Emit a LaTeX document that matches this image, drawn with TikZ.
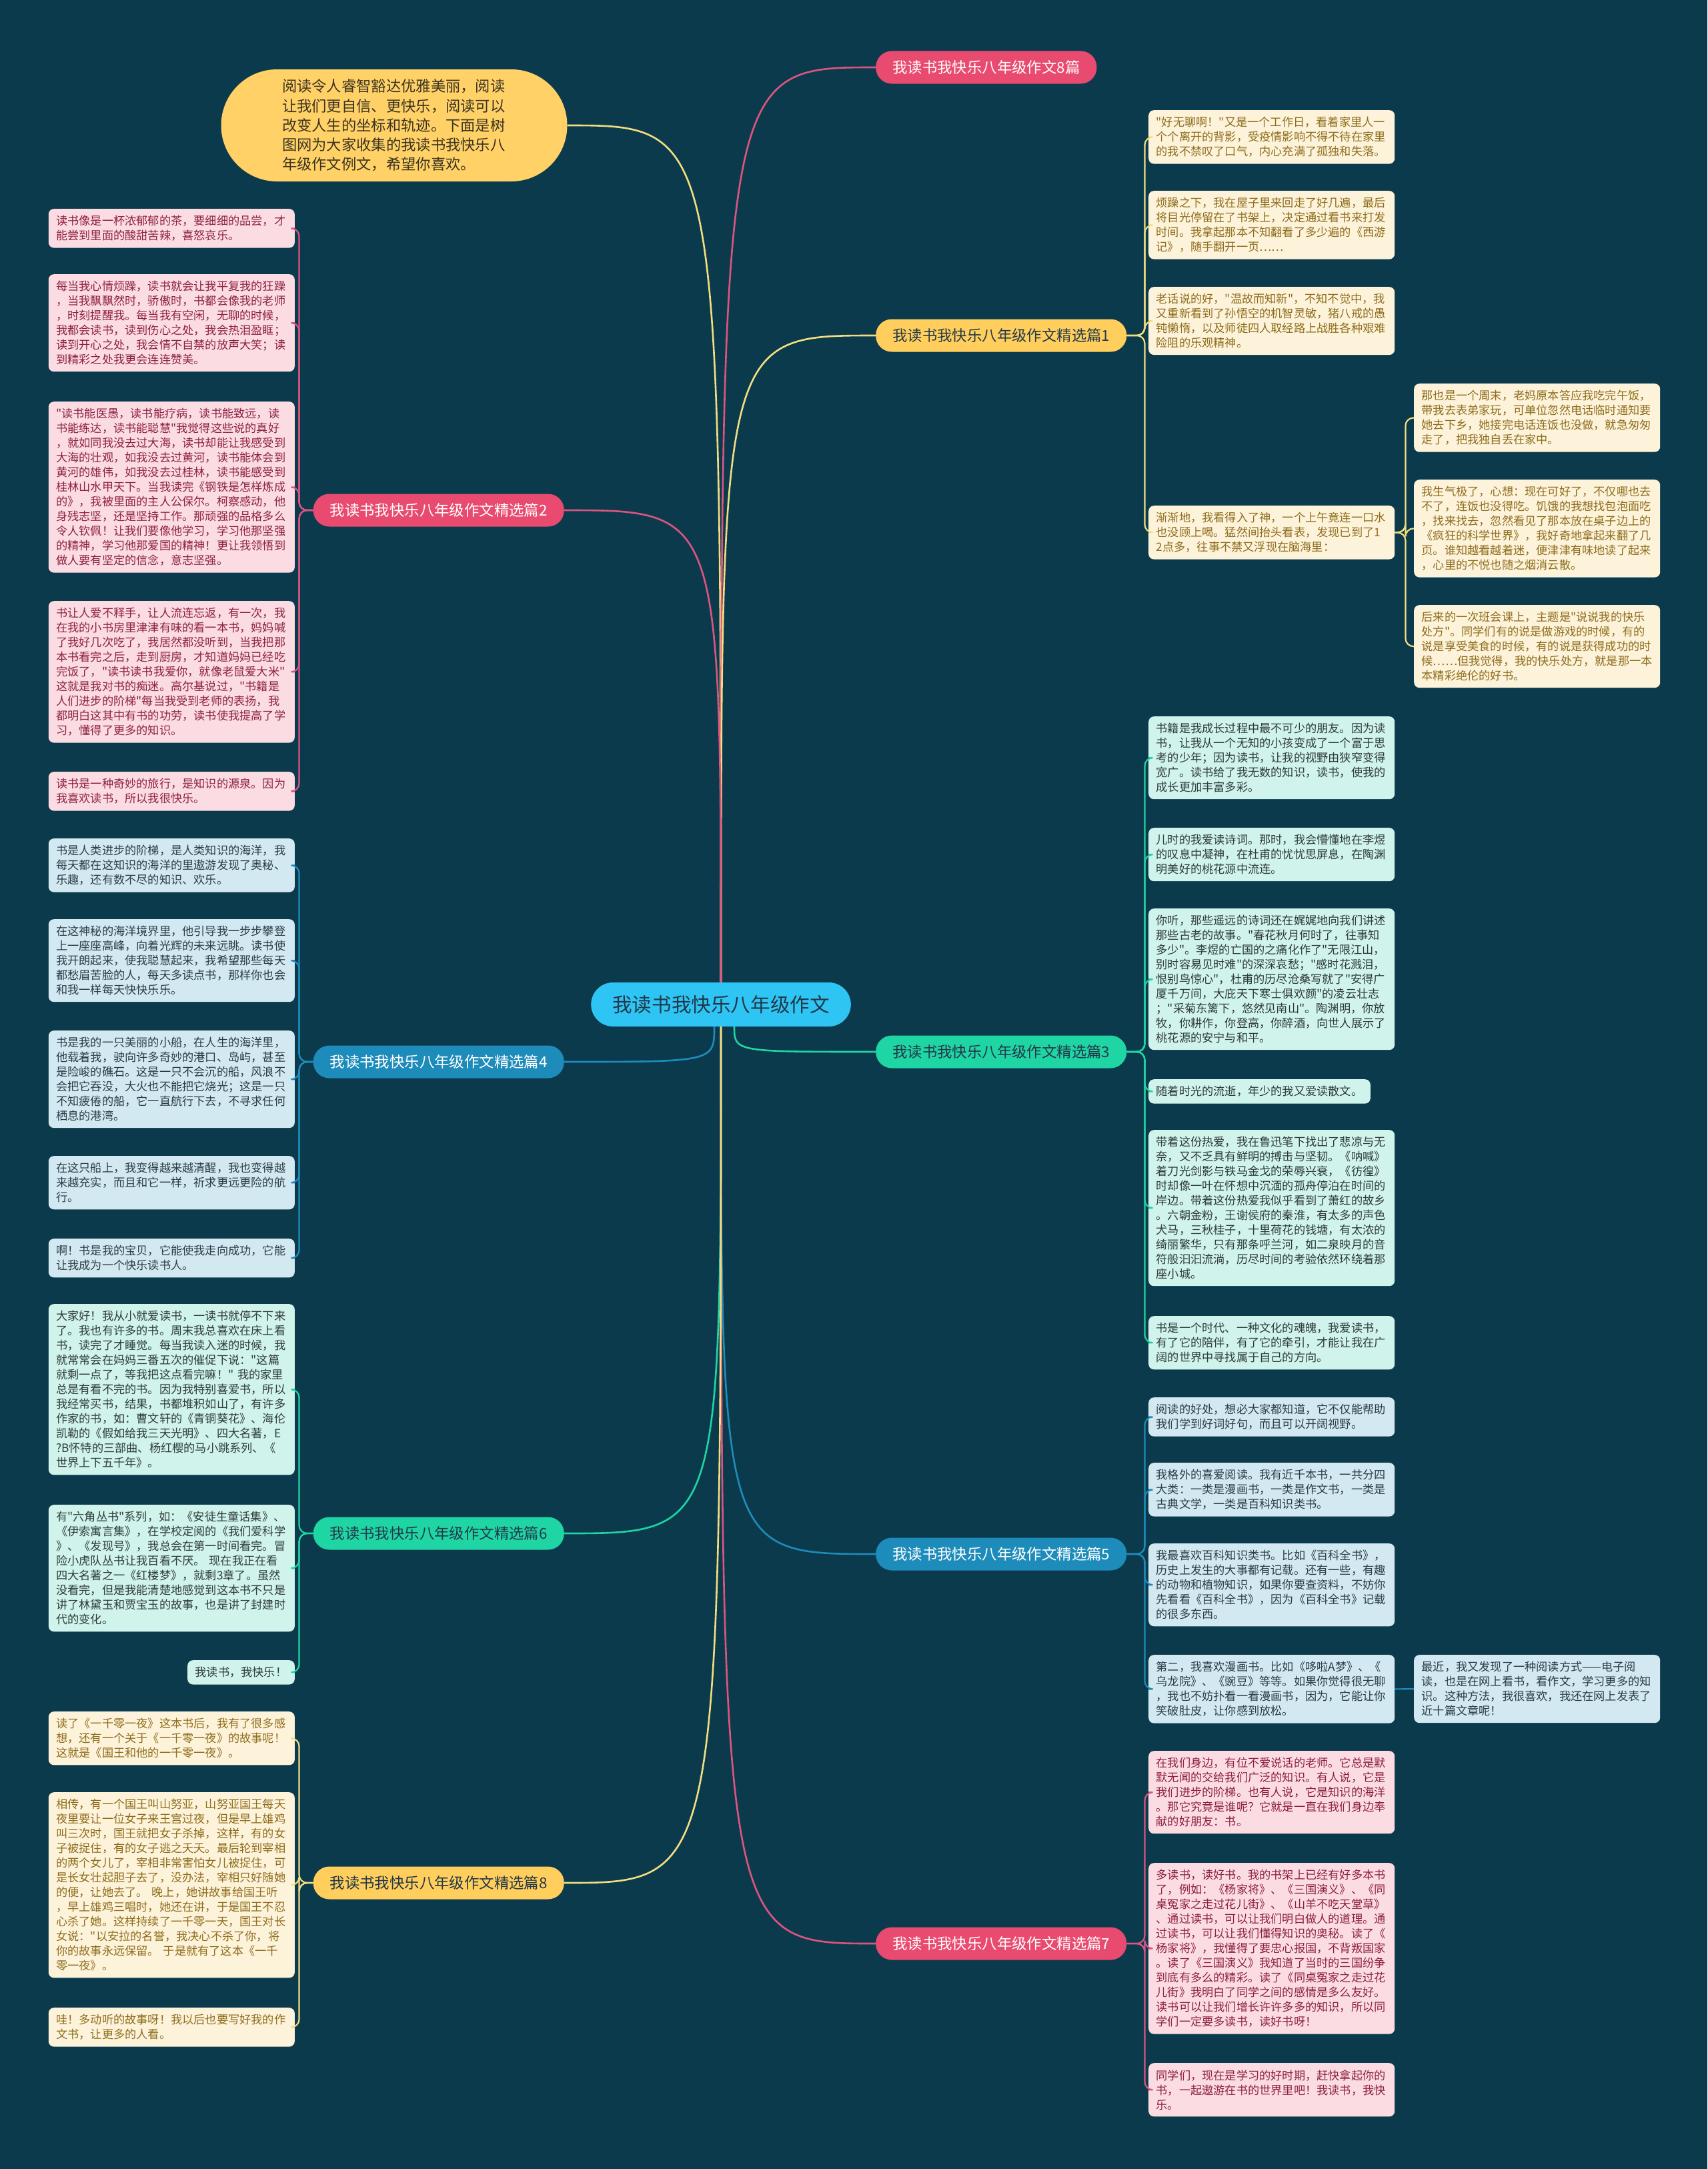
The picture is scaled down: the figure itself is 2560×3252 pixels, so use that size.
\documentclass[tikz,border=0pt]{standalone}
\usepackage{fontspec}
\usepackage{tikz}
\usetikzlibrary{positioning}
\newfontfamily\cjkfont{Noto Sans CJK SC}
\newcommand\leaffont{\cjkfont\fontsize{17.2pt}{22pt}\selectfont}
\newcommand\branchfont{\cjkfont\fontsize{22.4pt}{26pt}\selectfont}
\newcommand\hubfont{\cjkfont\fontsize{29.6pt}{34pt}\selectfont}
\newcommand\introfont{\cjkfont\fontsize{22.3pt}{29.2pt}\selectfont}

\definecolor{bgc}{HTML}{0C3A4D}
\definecolor{hubc}{HTML}{2EC4F3}
\definecolor{hubtext}{HTML}{22384A}
\definecolor{introc}{HTML}{FFD166}
\definecolor{introtext}{HTML}{3B3322}
\definecolor{pinkc}{HTML}{E94B70}
\definecolor{pinkline}{HTML}{DC5580}
\definecolor{pinkfill}{HTML}{FCDCE3}
\definecolor{pinktext}{HTML}{8C2041}
\definecolor{yellowc}{HTML}{FFCE5C}
\definecolor{yellowline}{HTML}{F2DE80}
\definecolor{yellowfill}{HTML}{FDF3DA}
\definecolor{yellowtext}{HTML}{8E6C1C}
\definecolor{greenc}{HTML}{1FD5A3}
\definecolor{greenfill}{HTML}{D0F3EC}
\definecolor{greentext}{HTML}{2E3A3A}
\definecolor{bluec}{HTML}{1E8CBB}
\definecolor{bluefill}{HTML}{D3E9F1}
\definecolor{bluetext}{HTML}{2A3B47}

\tikzset{
  leaf/.style={rounded corners=8pt, inner xsep=11.5pt, inner ysep=10pt, align=left, font=\leaffont},
  wide/.style={leaf, text width=346pt},
  pinkleaf/.style={fill=pinkfill, text=pinktext},
  yellowleaf/.style={fill=yellowfill, text=yellowtext},
  greenleaf/.style={fill=greenfill, text=greentext},
  blueleaf/.style={fill=bluefill, text=bluetext},
  branch/.style={rounded corners=24pt, minimum height=49pt, inner xsep=25pt, font=\branchfont},
  hub/.style={fill=hubc, text=hubtext, rounded corners=33pt, minimum height=66pt, inner xsep=32pt, font=\hubfont},
  trunk/.style={line width=2.6pt},
  twig/.style={line width=2.2pt, rounded corners=12pt},
}

\begin{document}
\begin{tikzpicture}[x=1pt, y=-1pt]
  \useasboundingbox (0,0) rectangle (2560,3252);
  \fill[bgc] (0,0) rectangle (2560,3252);

  % centre and intro
  \node[hub] (main) at (1081,1506) {我读书我快乐八年级作文};
  \node[fill=introc, text=introtext, rounded corners=84pt, minimum width=519pt, minimum height=168pt,
        text width=336pt, align=left, font=\introfont] (intro) at (591,188)
    {阅读令人睿智豁达优雅美丽，阅读\\让我们更自信、更快乐，阅读可以\\改变人生的坐标和轨迹。下面是树\\图网为大家收集的我读书我快乐八\\年级作文例文，希望你喜欢。};

  % branches
  \node[branch, fill=pinkc, text=white, anchor=west] (b0) at (1313,101) {我读书我快乐八年级作文8篇};
  \node[branch, fill=yellowc, text=hubtext, anchor=west] (b1) at (1313,503) {我读书我快乐八年级作文精选篇1};
  \node[branch, fill=pinkc, text=white, anchor=east] (b2) at (846,765) {我读书我快乐八年级作文精选篇2};
  \node[branch, fill=greenc, text=hubtext, anchor=west] (b3) at (1313,1577) {我读书我快乐八年级作文精选篇3};
  \node[branch, fill=bluec, text=white, anchor=east] (b4) at (846,1592) {我读书我快乐八年级作文精选篇4};
  \node[branch, fill=bluec, text=white, anchor=west] (b5) at (1313,2330) {我读书我快乐八年级作文精选篇5};
  \node[branch, fill=greenc, text=hubtext, anchor=east] (b6) at (846,2299) {我读书我快乐八年级作文精选篇6};
  \node[branch, fill=pinkc, text=white, anchor=west] (b7) at (1313,2914) {我读书我快乐八年级作文精选篇7};
  \node[branch, fill=yellowc, text=hubtext, anchor=east] (b8) at (846,2823) {我读书我快乐八年级作文精选篇8};

  % main to branches
  \draw[trunk, yellowline] (main.north) .. controls (main.north |- intro.east) .. (intro.east);
  \draw[trunk, pinkline] (main.north) .. controls (main.north |- b0.west) .. (b0.west);
  \draw[trunk, yellowline] (main.north) .. controls (main.north |- b1.west) .. (b1.west);
  \draw[trunk, pinkline] (main.north) .. controls (main.north |- b2.east) .. (b2.east);
  \draw[trunk, greenc] ([xshift=20pt]main.south) .. controls ([xshift=20pt]main.south |- b3.west) .. (b3.west);
  \draw[trunk, bluec] ([xshift=-10pt]main.south) .. controls ([xshift=-10pt]main.south |- b4.east) .. (b4.east);
  \draw[trunk, bluec] (main.south) .. controls (main.south |- b5.west) .. (b5.west);
  \draw[trunk, greenc] (main.south) .. controls (main.south |- b6.east) .. (b6.east);
  \draw[trunk, pinkline] (main.south) .. controls (main.south |- b7.west) .. (b7.west);
  \draw[trunk, yellowline] (main.south) .. controls (main.south |- b8.east) .. (b8.east);

  % branch 1
  \node[wide, yellowleaf, anchor=north west] (p1a) at (1722,165)
    {"好无聊啊！"又是一个工作日，看着家里人一\\个个离开的背影，受疫情影响不得不待在家里\\的我不禁叹了口气，内心充满了孤独和失落。};
  \node[wide, yellowleaf, anchor=north west] (p1b) at (1722,286)
    {烦躁之下，我在屋子里来回走了好几遍，最后\\将目光停留在了书架上，决定通过看书来打发\\时间。我拿起那本不知翻看了多少遍的《西游\\记》，随手翻开一页……};
  \node[wide, yellowleaf, anchor=north west] (p1c) at (1722,430)
    {老话说的好，"温故而知新"，不知不觉中，我\\又重新看到了孙悟空的机智灵敏，猪八戒的愚\\钝懒惰，以及师徒四人取经路上战胜各种艰难\\险阻的乐观精神。};
  \node[wide, yellowleaf, anchor=north west] (p1d) at (1722,758)
    {渐渐地，我看得入了神，一个上午竟连一口水\\也没顾上喝。猛然间抬头看表，发现已到了1\\2点多，往事不禁又浮现在脑海里：};
  \node[wide, yellowleaf, anchor=north west] (p1e) at (2120,575)
    {那也是一个周末，老妈原本答应我吃完午饭，\\带我去表弟家玩，可单位忽然电话临时通知要\\她去下乡，她接完电话连饭也没做，就急匆匆\\走了，把我独自丢在家中。};
  \node[wide, yellowleaf, anchor=north west] (p1f) at (2120,719)
    {我生气极了，心想：现在可好了，不仅哪也去\\不了，连饭也没得吃。饥饿的我想找包泡面吃\\，找来找去，忽然看见了那本放在桌子边上的\\《疯狂的科学世界》，我好奇地拿起来翻了几\\页。谁知越看越着迷，便津津有味地读了起来\\，心里的不悦也随之烟消云散。};
  \node[wide, yellowleaf, anchor=north west] (p1g) at (2120,907)
    {后来的一次班会课上，主题是"说说我的快乐\\处方"。同学们有的说是做游戏的时候，有的\\说是享受美食的时候，有的说是获得成功的时\\候……但我觉得，我的快乐处方，就是那一本\\本精彩绝伦的好书。};
  \foreach \n in {p1a,p1b,p1c,p1d}
    \draw[twig, yellowline] (b1.east) -- ++(27,0) |- (\n.west);
  \foreach \n in {p1e,p1f,p1g}
    \draw[twig, yellowline] (p1d.east) -- ++(16,0) |- (\n.west);

  % branch 2
  \node[wide, pinkleaf, anchor=north east] (p2a) at (442,313)
    {读书像是一杯浓郁郁的茶，要细细的品尝，才\\能尝到里面的酸甜苦辣，喜怒哀乐。};
  \node[wide, pinkleaf, anchor=north east] (p2b) at (442,411)
    {每当我心情烦躁，读书就会让我平复我的狂躁\\，当我飘飘然时，骄傲时，书都会像我的老师\\，时刻提醒我。每当我有空闲，无聊的时候，\\我都会读书，读到伤心之处，我会热泪盈眶；\\读到开心之处，我会情不自禁的放声大笑；读\\到精彩之处我更会连连赞美。};
  \node[wide, pinkleaf, anchor=north east] (p2c) at (442,602)
    {"读书能医愚，读书能疗病，读书能致远，读\\书能练达，读书能聪慧"我觉得这些说的真好\\，就如同我没去过大海，读书却能让我感受到\\大海的壮观，如我没去过黄河，读书能体会到\\黄河的雄伟，如我没去过桂林，读书能感受到\\桂林山水甲天下。当我读完《钢铁是怎样炼成\\的》，我被里面的主人公保尔。柯察感动，他\\身残志坚，还是坚持工作。那顽强的品格多么\\令人钦佩！让我们要像他学习，学习他那坚强\\的精神，学习他那爱国的精神！更让我领悟到\\做人要有坚定的信念，意志坚强。};
  \node[wide, pinkleaf, anchor=north east] (p2d) at (442,901)
    {书让人爱不释手，让人流连忘返，有一次，我\\在我的小书房里津津有味的看一本书，妈妈喊\\了我好几次吃了，我居然都没听到，当我把那\\本书看完之后，走到厨房，才知道妈妈已经吃\\完饭了，"读书读书我爱你，就像老鼠爱大米"\\这就是我对书的痴迷。高尔基说过，"书籍是\\人们进步的阶梯"每当我受到老师的表扬，我\\都明白这其中有书的功劳，读书使我提高了学\\习，懂得了更多的知识。};
  \node[wide, pinkleaf, anchor=north east] (p2e) at (442,1157)
    {读书是一种奇妙的旅行，是知识的源泉。因为\\我喜欢读书，所以我很快乐。};
  \foreach \n in {p2a,p2b,p2c,p2d,p2e}
    \draw[twig, pinkline] (b2.west) -- ++(-21,0) |- (\n.east);

  % branch 3
  \node[wide, greenleaf, anchor=north west] (p3a) at (1722,1074)
    {书籍是我成长过程中最不可少的朋友。因为读\\书，让我从一个无知的小孩变成了一个富于思\\考的少年；因为读书，让我的视野由狭窄变得\\宽广。读书给了我无数的知识，读书，使我的\\成长更加丰富多彩。};
  \node[wide, greenleaf, anchor=north west] (p3b) at (1722,1241)
    {儿时的我爱读诗词。那时，我会懵懂地在李煜\\的叹息中凝神，在杜甫的忧忧思屏息，在陶渊\\明美好的桃花源中流连。};
  \node[wide, greenleaf, anchor=north west] (p3c) at (1722,1362)
    {你听，那些遥远的诗词还在娓娓地向我们讲述\\那些古老的故事。"春花秋月何时了，往事知\\多少"。李煜的亡国的之痛化作了"无限江山，\\别时容易见时难"的深深哀愁；"感时花溅泪，\\恨别鸟惊心"，杜甫的历尽沧桑写就了"安得广\\厦千万间，大庇天下寒士俱欢颜"的凌云壮志\\；"采菊东篱下，悠然见南山"。陶渊明，你放\\牧，你耕作，你登高，你醉酒，向世人展示了\\桃花源的安宁与和平。};
  \node[leaf, greenleaf, anchor=north west] (p3d) at (1722,1618)
    {随着时光的流逝，年少的我又爱读散文。};
  \node[wide, greenleaf, anchor=north west] (p3e) at (1722,1694)
    {带着这份热爱，我在鲁迅笔下找出了悲凉与无\\奈，又不乏具有鲜明的搏击与坚韧。《呐喊》\\着刀光剑影与铁马金戈的荣辱兴衰，《彷徨》\\时却像一叶在怀想中沉湎的孤舟停泊在时间的\\岸边。带着这份热爱我似乎看到了萧红的故乡\\。六朝金粉，王谢侯府的秦淮，有太多的声色\\犬马，三秋桂子，十里荷花的钱塘，有太浓的\\绮丽繁华，只有那条呼兰河，如二泉映月的音\\符般汩汩流淌，历尽时间的考验依然环绕着那\\座小城。};
  \node[wide, greenleaf, anchor=north west] (p3f) at (1722,1973)
    {书是一个时代、一种文化的魂魄，我爱读书，\\有了它的陪伴，有了它的牵引，才能让我在广\\阔的世界中寻找属于自己的方向。};
  \foreach \n in {p3a,p3b,p3c,p3d,p3e,p3f}
    \draw[twig, greenc] (b3.east) -- ++(27,0) |- (\n.west);

  % branch 4
  \node[wide, blueleaf, anchor=north east] (p4a) at (442,1257)
    {书是人类进步的阶梯，是人类知识的海洋，我\\每天都在这知识的海洋的里遨游发现了奥秘、\\乐趣，还有数不尽的知识、欢乐。};
  \node[wide, blueleaf, anchor=north east] (p4b) at (442,1378)
    {在这神秘的海洋境界里，他引导我一步步攀登\\上一座座高峰，向着光辉的未来远眺。读书使\\我开朗起来，使我聪慧起来，我希望那些每天\\都愁眉苦脸的人，每天多读点书，那样你也会\\和我一样每天快快乐乐。};
  \node[wide, blueleaf, anchor=north east] (p4c) at (442,1545)
    {书是我的一只美丽的小船，在人生的海洋里，\\他载着我，驶向许多奇妙的港口、岛屿，甚至\\是险峻的礁石。这是一只不会沉的船，风浪不\\会把它吞没，大火也不能把它烧光；这是一只\\不知疲倦的船，它一直航行下去，不寻求任何\\栖息的港湾。};
  \node[wide, blueleaf, anchor=north east] (p4d) at (442,1733)
    {在这只船上，我变得越来越清醒，我也变得越\\来越充实，而且和它一样，祈求更远更险的航\\行。};
  \node[wide, blueleaf, anchor=north east] (p4e) at (442,1857)
    {啊！书是我的宝贝，它能使我走向成功，它能\\让我成为一个快乐读书人。};
  \foreach \n in {p4a,p4b,p4c,p4d,p4e}
    \draw[twig, bluec] (b4.west) -- ++(-21,0) |- (\n.east);

  % branch 5
  \node[wide, blueleaf, anchor=north west] (p5a) at (1722,2095)
    {阅读的好处，想必大家都知道，它不仅能帮助\\我们学到好词好句，而且可以开阔视野。};
  \node[wide, blueleaf, anchor=north west] (p5b) at (1722,2193)
    {我格外的喜爱阅读。我有近千本书，一共分四\\大类：一类是漫画书，一类是作文书，一类是\\古典文学，一类是百科知识类书。};
  \node[wide, blueleaf, anchor=north west] (p5c) at (1722,2314)
    {我最喜欢百科知识类书。比如《百科全书》，\\历史上发生的大事都有记载。还有一些，有趣\\的动物和植物知识，如果你要查资料，不妨你\\先看看《百科全书》，因为《百科全书》记载\\的很多东西。};
  \node[wide, blueleaf, anchor=north west] (p5d) at (1722,2481)
    {第二，我喜欢漫画书。比如《哆啦A梦》、《\\乌龙院》、《豌豆》等等。如果你觉得很无聊\\，我也不妨扑看一看漫画书，因为，它能让你\\笑破肚皮，让你感到放松。};
  \node[wide, blueleaf, anchor=north west] (p5e) at (2120,2481)
    {最近，我又发现了一种阅读方式——电子阅\\读，也是在网上看书，看作文，学习更多的知\\识。这种方法，我很喜欢，我还在网上发表了\\近十篇文章呢！};
  \foreach \n in {p5a,p5b,p5c,p5d}
    \draw[twig, bluec] (b5.east) -- ++(27,0) |- (\n.west);
  \draw[twig, bluec] (p5d.east) -- (p5e.west);

  % branch 6
  \node[wide, greenleaf, anchor=north east] (p6a) at (442,1955)
    {大家好！我从小就爱读书，一读书就停不下来\\了。我也有许多的书。周末我总喜欢在床上看\\书，读完了才睡觉。每当我读入迷的时候，我\\就常常会在妈妈三番五次的催促下说："这篇\\就剩一点了，等我把这点看完嘛！" 我的家里\\总是有看不完的书。因为我特别喜爱书，所以\\我经常买书，结果，书都堆积如山了，有许多\\作家的书，如：曹文轩的《青铜葵花》、海伦\\凯勒的《假如给我三天光明》、四大名著，E\\?B怀特的三部曲、杨红樱的马小跳系列、《\\世界上下五千年》。};
  \node[wide, greenleaf, anchor=north east] (p6b) at (442,2256)
    {有"六角丛书"系列，如：《安徒生童话集》、\\《伊索寓言集》，在学校定阅的《我们爱科学\\》、《发现号》，我总会在第一时间看完。冒\\险小虎队丛书让我百看不厌。 现在我正在看\\四大名著之一《红楼梦》，就剩3章了。虽然\\没看完，但是我能清楚地感觉到这本书不只是\\讲了林黛玉和贾宝玉的故事，也是讲了封建时\\代的变化。};
  \node[leaf, greenleaf, anchor=north east] (p6c) at (442,2489) {我读书，我快乐！};
  \foreach \n in {p6a,p6b,p6c}
    \draw[twig, greenc] (b6.west) -- ++(-21,0) |- (\n.east);

  % branch 7
  \node[wide, pinkleaf, anchor=north west] (p7a) at (1722,2625)
    {在我们身边，有位不爱说话的老师。它总是默\\默无闻的交给我们广泛的知识。有人说，它是\\我们进步的阶梯。也有人说，它是知识的海洋\\。那它究竟是谁呢？它就是一直在我们身边奉\\献的好朋友：书。};
  \node[wide, pinkleaf, anchor=north west] (p7b) at (1722,2793)
    {多读书，读好书。我的书架上已经有好多本书\\了，例如：《杨家将》、《三国演义》、《同\\桌冤家之走过花儿街》、《山羊不吃天堂草》\\、通过读书，可以让我们明白做人的道理。通\\过读书，可以让我们懂得知识的奥秘。读了《\\杨家将》，我懂得了要忠心报国，不背叛国家\\。读了《三国演义》我知道了当时的三国纷争\\到底有多么的精彩。读了《同桌冤家之走过花\\儿街》我明白了同学之间的感情是多么友好。\\读书可以让我们增长许许多多的知识，所以同\\学们一定要多读书，读好书呀！};
  \node[wide, pinkleaf, anchor=north west] (p7c) at (1722,3093)
    {同学们，现在是学习的好时期，赶快拿起你的\\书，一起遨游在书的世界里吧！我读书，我快\\乐。};
  \foreach \n in {p7a,p7b,p7c}
    \draw[twig, pinkline] (b7.east) -- ++(27,0) |- (\n.west);

  % branch 8
  \node[wide, yellowleaf, anchor=north east] (p8a) at (442,2566)
    {读了《一千零一夜》这本书后，我有了很多感\\想，还有一个关于《一千零一夜》的故事呢！\\这就是《国王和他的一千零一夜》。};
  \node[wide, yellowleaf, anchor=north east] (p8b) at (442,2687)
    {相传，有一个国王叫山努亚，山努亚国王每天\\夜里要让一位女子来王宫过夜，但是早上雄鸡\\叫三次时，国王就把女子杀掉，这样，有的女\\子被捉住，有的女子逃之夭夭。最后轮到宰相\\的两个女儿了，宰相非常害怕女儿被捉住，可\\是长女壮起胆子去了，没办法，宰相只好随她\\的便，让她去了。 晚上，她讲故事给国王听\\，早上雄鸡三唱时，她还在讲，于是国王不忍\\心杀了她。这样持续了一千零一天，国王对长\\女说："以安拉的名誉，我决心不杀了你，将\\你的故事永远保留。 于是就有了这本《一千\\零一夜》。};
  \node[wide, yellowleaf, anchor=north east] (p8c) at (442,3010)
    {哇！多动听的故事呀！我以后也要写好我的作\\文书，让更多的人看。};
  \foreach \n in {p8a,p8b,p8c}
    \draw[twig, yellowline] (b8.west) -- ++(-21,0) |- (\n.east);
\end{tikzpicture}
\end{document}
